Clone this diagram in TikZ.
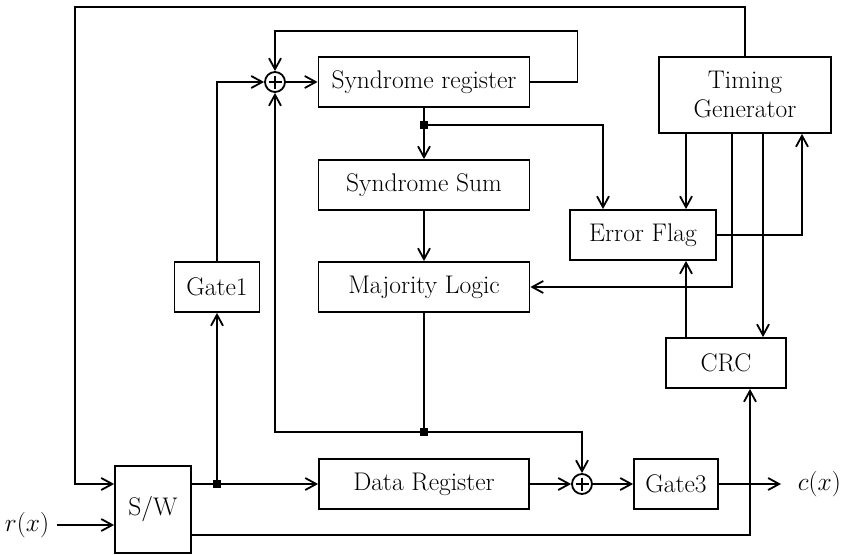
\RequirePackage{fix-cm}
\documentclass[tikz,border=0pt]{standalone}
\usepackage{fontspec}
\usetikzlibrary{arrows.meta,calc}
\begin{document}
\begin{tikzpicture}[x=1pt,y=-1pt, line width=1.8pt,
  >={Straight Barb[length=11pt,width=12pt]},
  blk/.style={draw, rectangle, inner sep=2pt, font=\fontsize{25.5}{29}\selectfont, align=center},
  add/.style={draw, circle, minimum size=20pt, inner sep=0pt,
    path picture={\draw[line width=1.8pt] ($(path picture bounding box.center)+(-6.5,0)$) -- ($(path picture bounding box.center)+(6.5,0)$);
                  \draw[line width=1.8pt] ($(path picture bounding box.center)+(0,-6.5)$) -- ($(path picture bounding box.center)+(0,6.5)$);}},
  jn/.style={fill, rectangle, minimum size=8pt, inner sep=0pt},
  lbl/.style={font=\fontsize{25.5}{29}\selectfont, inner sep=0pt}]
\useasboundingbox (0,0) rectangle (842,554);
% blocks
\node[blk, minimum width=211pt, minimum height=50pt] (SR) at (424,82) {Syndrome register};
\node[blk, minimum width=211pt, minimum height=50pt] (SS) at (424,185) {Syndrome Sum};
\node[blk, minimum width=211pt, minimum height=50pt] (ML) at (424,287) {Majority Logic};
\node[blk, minimum width=210pt, minimum height=50pt] (DR) at (424,484) {Data Register};
\node[blk, minimum width=85pt, minimum height=50pt] (G1) at (217,287) {Gate1};
\node[blk, minimum width=84pt, minimum height=50pt] (G3) at (676,484) {Gate3};
\node[blk, minimum width=76pt, minimum height=87pt] (SW) at (153,509.5) {S/W};
\node[blk, minimum width=172pt, minimum height=76pt] (TG) at (745,95) {Timing\\Generator};
\node[blk, minimum width=146pt, minimum height=50pt] (EF) at (643,235) {Error Flag};
\node[blk, minimum width=120pt, minimum height=50pt] (CRC) at (726,363) {CRC};
\node[add] (A1) at (275,82) {};
\node[add] (A2) at (582,484) {};
\node[jn] (j1) at (217,484) {};
\node[jn] (j2) at (424,432) {};
\node[jn] (j3) at (424,125) {};
\node[lbl, anchor=east] (rx) at (50,525) {$r(x)$};
\node[lbl, anchor=west] (cx) at (797,484) {$c(x)$};
\coordinate (tl) at (75,7);
\coordinate (fb) at (275,31);
\coordinate (bt) at (750,535);
% connectors
\draw[->] (TG.north) |- (tl) |- (SW.west |- j1);
\draw[->] (SR.east) -- ++(47,0) |- (fb) -- (A1.north);
\draw[->] (A1) -- (SR.west);
\draw[->] (G1.north) |- (A1.west);
\draw (ML.south) -- (j2.center);
\draw[->] (j2.center) -| (A1.south);
\draw[->] (j2.center) -| (A2.north);
\draw[->] (DR) -- (A2);
\draw[->] (A2) -- (G3);
\draw[->, shorten >=16pt] (G3.east) -- (cx.west);
\draw[->, shorten <=7pt] (rx.east) -- (SW.west |- rx.east);
\draw[->] (SW.east |- j1) -- (DR.west);
\draw[->] (j1.center) -- (G1.south);
\draw[->] ($(SW.east)+(0,25.5)$) -- (bt) -- (bt |- CRC.south);
\draw (SR.south) -- (j3.center);
\draw[->] (j3.center) -- (SS.north);
\draw[->] (j3.center) -| ($(EF.north)+(-40,0)$);
\draw[->] (SS) -- (ML);
\draw[->] ($(TG.south)+(-59,0)$) -- ($(EF.north)+(43,0)$);
\draw[->] ($(TG.south)+(-13,0)$) |- (ML.east);
\draw[->] ($(TG.south)+(18,0)$) -- ($(CRC.north)+(37,0)$);
\draw[->] ($(CRC.north)+(-40,0)$) -- ($(EF.south)+(43,0)$);
\draw[->] (EF.east) -| ($(TG.south)+(57,0)$);
\end{tikzpicture}
\end{document}
